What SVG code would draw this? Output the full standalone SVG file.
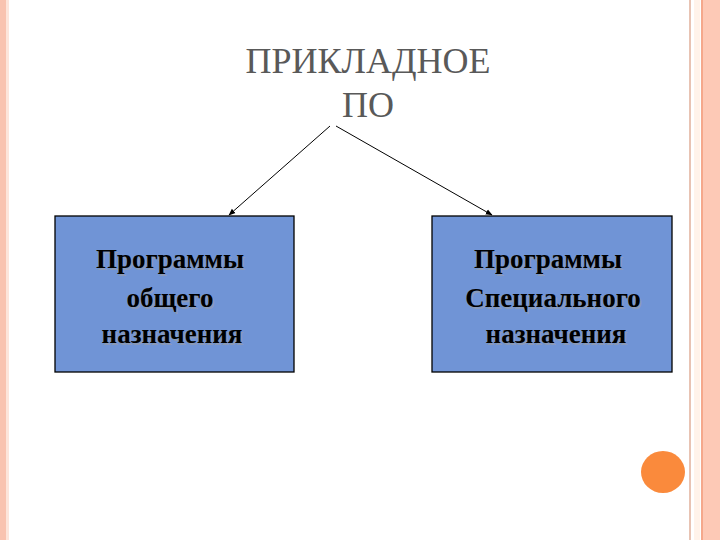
<svg xmlns="http://www.w3.org/2000/svg" width="720" height="540" viewBox="0 0 720 540">
<defs>
<style>
.t{font-family:"Liberation Serif",serif;fill:#595959;font-size:36px;text-anchor:middle}
.b{font-family:"Liberation Serif",serif;font-weight:bold;font-size:27px;text-anchor:middle;fill:#000}
.s{fill:#8a9ab8}
.box{fill:#7094d6;stroke:#000;stroke-width:1.3}
.c{stroke:#000;stroke-width:1;fill:none;marker-end:url(#a)}
</style>
<marker id="a" viewBox="0 0 10 10" refX="9" refY="5" markerWidth="7" markerHeight="7" orient="auto"><path d="M0,1 L10,5 L0,9 z" fill="#000"/></marker>
</defs>
<rect width="720" height="540" fill="#fff"/>
<rect x="0" y="0" width="6" height="540" fill="#f9c3b0"/>
<rect x="6" y="0" width="3" height="540" fill="#fde5db"/>
<rect x="689" y="0" width="2" height="540" fill="#e8c3b3"/>
<rect x="694" y="0" width="6" height="540" fill="#fff3ea"/>
<rect x="701" y="0" width="2" height="540" fill="#f5a88c"/>
<rect x="703" y="0" width="17" height="540" fill="#fdc9b6"/>
<g id="title"><text class="t" x="368" y="73">ПРИКЛАДНОЕ</text><text class="t" x="368" y="117">ПО</text></g>
<g id="connectors"><line class="c" x1="330" y1="126" x2="229" y2="215"/><line class="c" x1="336" y1="126" x2="492" y2="215"/></g>
<g id="left"><rect class="box" x="55" y="216" width="239" height="156"/>
<g class="s" transform="translate(1.5,1.5)"><text class="b s" x="170" y="268">Программы</text><text class="b s" x="170" y="307">общего</text><text class="b s" x="172" y="343">назначения</text></g>
<text class="b" x="170" y="268">Программы</text><text class="b" x="170" y="307">общего</text><text class="b" x="172" y="343">назначения</text></g>
<g id="right"><rect class="box" x="432" y="216" width="240" height="156"/>
<g transform="translate(1.5,1.5)"><text class="b s" x="548" y="268">Программы</text><text class="b s" x="553" y="307">Специального</text><text class="b s" x="556" y="343">назначения</text></g>
<text class="b" x="548" y="268">Программы</text><text class="b" x="553" y="307">Специального</text><text class="b" x="556" y="343">назначения</text></g>
<g id="dot"><ellipse cx="663" cy="472" rx="22" ry="21" fill="#fa8a3c"/></g>
</svg>
